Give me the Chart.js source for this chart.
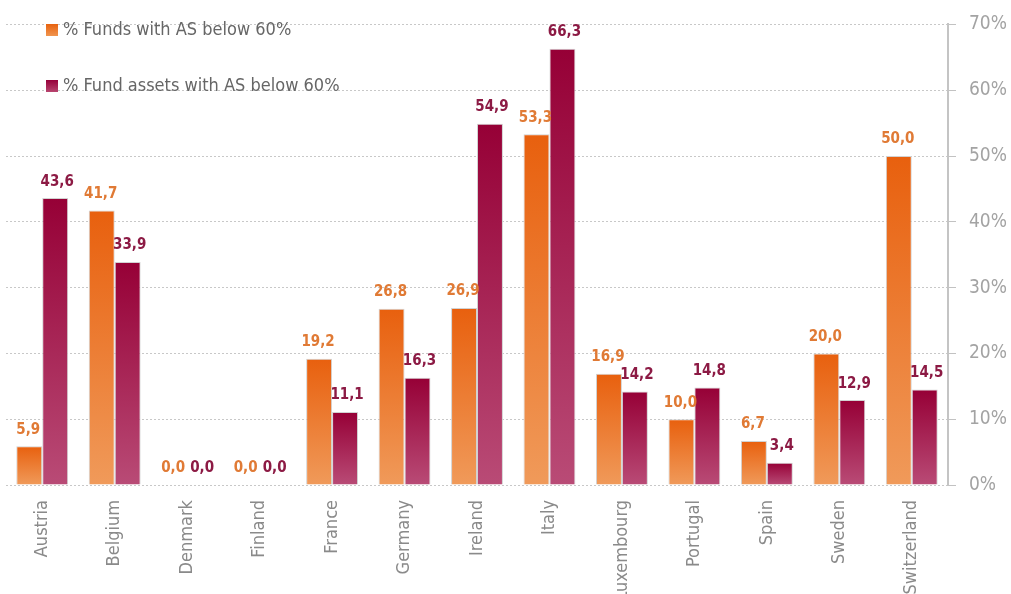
<!DOCTYPE html>
<html>
<head>
<meta charset="utf-8">
<script src="https://cdn.jsdelivr.net/npm/chart.js@4"></script>
<style>
  body { margin: 0; background: #fff; }
  #wrap { position: relative; width: 1011px; height: 594px; overflow: hidden; }
  .legend { position: absolute; left: 46px; font: 18px "Liberation Sans Narrow", "DejaVu Sans Condensed", sans-serif; color: #666; line-height: 22px; white-space: nowrap; }
  .legend span { display: inline-block; width: 12px; height: 12px; margin-right: 5px; vertical-align: -1px; }
</style>
</head>
<body>
<div id="wrap">
  <canvas id="chart" width="1011" height="594"></canvas>
  <div class="legend" style="top:18px"><span style="background:linear-gradient(#e8620f,#f0954f)"></span>% Funds with AS below 60%</div>
  <div class="legend" style="top:74px"><span style="background:linear-gradient(#96003a,#b8456f)"></span>% Fund assets with AS below 60%</div>
</div>
<script>
// country list and the two series
const countries = ["Austria", "Belgium", "Denmark", "Finland", "France", "Germany", "Ireland",
  "Italy", "Luxembourg", "Portugal", "Spain", "Sweden", "Switzerland"];
const fundsShare = [5.9, 41.7, 0.0, 0.0, 19.2, 26.8, 26.9, 53.3, 16.9, 10.0, 6.7, 20.0, 50.0];
const assetsShare = [43.6, 33.9, 0.0, 0.0, 11.1, 16.3, 54.9, 66.3, 14.2, 14.8, 3.4, 12.9, 14.5];
const seriesNames = ["% Funds with AS below 60%", "% Fund assets with AS below 60%"];
const yTicks = [0, 10, 20, 30, 40, 50, 60, 70];

const NARROW = '"Liberation Sans Narrow", "DejaVu Sans Condensed", sans-serif';
const labelColors = ["#e07a35", "#8c1a44"];

// vertical gradient per bar, dark at the top and lighter at the base
function barGradient(top, bottom) {
  return ctx => {
    const chart = ctx.chart;
    if (!chart.chartArea || ctx.type !== "data") return top;
    const y = chart.scales.y;
    const y0 = y.getPixelForValue(0);
    const y1 = y.getPixelForValue(ctx.raw);
    if (y0 - y1 < 1) return top;
    const g = chart.ctx.createLinearGradient(0, y1, 0, y0);
    g.addColorStop(0, top);
    g.addColorStop(1, bottom);
    return g;
  };
}

// value labels above each bar, with a decimal comma
const valueLabels = {
  id: "valueLabels",
  afterDatasetsDraw(chart) {
    const ctx = chart.ctx;
    ctx.save();
    ctx.font = "bold 15px " + NARROW;
    ctx.textAlign = "center";
    ctx.textBaseline = "bottom";
    chart.data.datasets.forEach((ds, i) => {
      ctx.fillStyle = labelColors[i];
      chart.getDatasetMeta(i).data.forEach((bar, j) => {
        const txt = ds.data[j].toFixed(1).replace(".", ",");
        ctx.fillText(txt, bar.x + (i === 0 ? -1 : 2), bar.y - 9);
      });
    });
    ctx.restore();
  }
};

new Chart(document.getElementById("chart"), {
  type: "bar",
  data: {
    labels: countries,
    datasets: [
      {
        label: seriesNames[0],
        data: fundsShare,
        backgroundColor: barGradient("#e8600e", "#f09a5a"),
        borderColor: "#d2d2d2",
        borderWidth: 1,
        categoryPercentage: 0.716,
        barPercentage: 1
      },
      {
        label: seriesNames[1],
        data: assetsShare,
        backgroundColor: barGradient("#960036", "#b94b76"),
        borderColor: "#d2d2d2",
        borderWidth: 1,
        categoryPercentage: 0.716,
        barPercentage: 1
      }
    ]
  },
  options: {
    responsive: false,
    animation: false,
    layout: { padding: { left: 6, top: 20, right: 0, bottom: 0 } },
    plugins: {
      legend: { display: false },
      tooltip: { enabled: false }
    },
    scales: {
      x: {
        grid: { display: false, drawTicks: false },
        border: { display: false },
        ticks: {
          color: "#8a8a8a",
          font: { family: NARROW, size: 18 },
          minRotation: 90,
          maxRotation: 90,
          padding: 15,
          autoSkip: false
        },
        afterFit: s => { s.height = 109; }
      },
      y: {
        position: "right",
        min: 0,
        max: 70,
        afterBuildTicks: s => { s.ticks = yTicks.map(v => ({ value: v })); },
        grid: {
          color: "#c8c8c8",
          lineWidth: 1,
          drawTicks: true,
          tickLength: 8,
          tickColor: "#c2c2c2",
          tickBorderDash: []
        },
        border: { display: true, color: "#c4c4c4", width: 2, dash: [2, 2] },
        ticks: {
          color: "#a3a3a3",
          font: { family: NARROW, size: 19 },
          padding: 13,
          callback: v => v + "%"
        },
        afterFit: s => { s.width = 63; }
      }
    }
  },
  plugins: [valueLabels]
});
</script>
</body>
</html>
